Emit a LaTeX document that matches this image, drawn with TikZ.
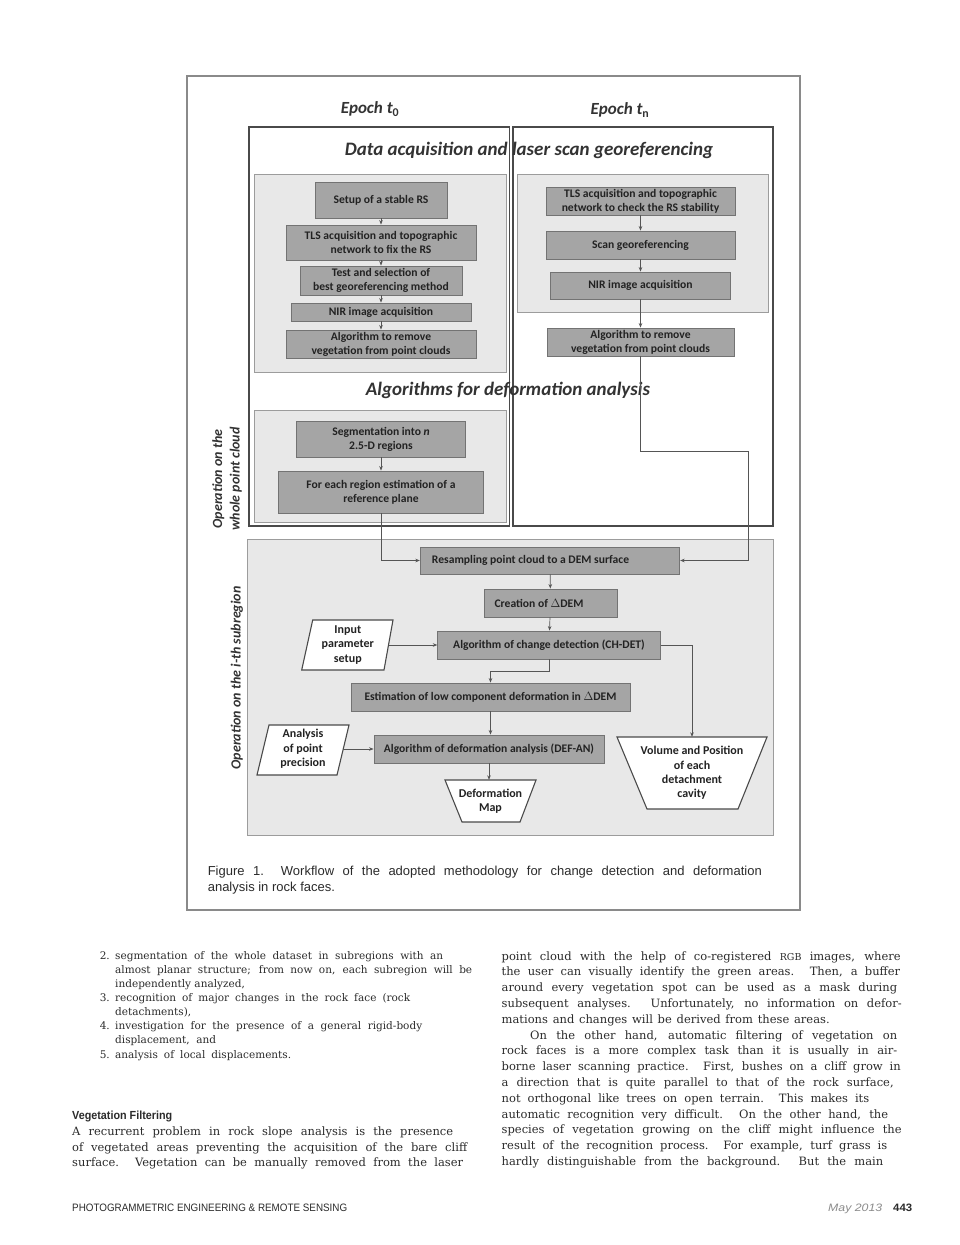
\documentclass[tikz,border=0pt]{standalone}
\usepackage{fontspec}
\usepackage{graphicx}
\usetikzlibrary{arrows.meta,calc}
\newfontfamily\carl{Carlito}
\newfontfamily\bodyf{DejaVu Serif}
\newfontfamily\capf{Liberation Sans}
\definecolor{boxfill}{HTML}{A5A5A5}
\definecolor{boxdraw}{HTML}{737373}
\definecolor{boxtext}{HTML}{222222}
\definecolor{panelfill}{HTML}{E8E8E8}
\definecolor{paneldraw}{HTML}{9C9C9C}
\definecolor{bigcol}{HTML}{4A4A4A}
\definecolor{framecol}{HTML}{8A8A8A}
\definecolor{arrcol}{HTML}{555555}
\definecolor{ttlcol}{HTML}{333333}
\definecolor{bodytext}{HTML}{2B2B2B}
\definecolor{datecol}{HTML}{8C8C8C}
\newlength\jlw
\newcommand\jl[2]{\settowidth\jlw{#2}\ifdim\jlw<#1\relax\makebox[#1][s]{#2}\else #2\fi}
\tikzset{
  gbox/.style={draw=boxdraw, fill=boxfill, line width=0.9pt, font=\carl\bfseries\fontsize{11.6}{14}\selectfont, text=boxtext, align=center, inner sep=0pt},
  wtext/.style={font=\carl\bfseries\fontsize{12}{14.3}\selectfont, text=boxtext, align=center, inner sep=0pt},
  wshape/.style={draw=bigcol, fill=white, line width=1.1pt, line join=miter},
  panel/.style={draw=paneldraw, fill=panelfill, line width=0.9pt},
  bigframe/.style={draw=bigcol, line width=1.8pt},
  arr/.style={draw=arrcol, line width=0.7pt, -{Stealth[length=4.5pt,width=3.6pt]}},
  epoch/.style={font=\carl\bfseries\itshape\fontsize{17}{20}\selectfont, text=ttlcol, inner sep=0pt},
  ttl/.style={font=\carl\bfseries\itshape\fontsize{19}{22}\selectfont, text=ttlcol, inner sep=0pt},
  vlab/.style={font=\carl\bfseries\itshape\fontsize{14}{17.5}\selectfont, text=ttlcol, inner sep=0pt, align=center, rotate=90},
  body/.style={font=\bodyf\fontsize{11.5}{14}\selectfont, text=bodytext, inner sep=0pt, anchor=base west},
  listf/.style={font=\bodyf\fontsize{10.5}{13}\selectfont, text=bodytext, inner sep=0pt, anchor=base west},
  capt/.style={font=\capf\fontsize{13}{15}\selectfont, text=bodytext, inner sep=0pt, anchor=base west},
}
\begin{document}
\begin{tikzpicture}[x=1pt,y=-1pt]
\fill[white] (0,0) rectangle (960,1245);
\useasboundingbox (0,0) rectangle (960,1245);

% figure frame
\draw[draw=framecol, line width=1.2pt] (187,76) rectangle (800,910);

% big frames and panels
\draw[bigframe] (249,127) rectangle (509.5,526);
\draw[bigframe] (512.7,127) rectangle (773,526);
\draw[panel] (254,174) rectangle (506,372);
\draw[panel] (517,174) rectangle (768,312);
\draw[panel] (254,410) rectangle (506,522);
\draw[panel] (247.6,539) rectangle (773,835);

% titles
\node[epoch] (e0) at (370,109) {Epoch t\textsubscript{\upshape 0}};
\node[epoch] (en) at (620,110) {Epoch t\textsubscript{\upshape n}};
\node[ttl] (t1) at (529,150) {Data acquisition and laser scan georeferencing};
\node[ttl] (t2) at (508,390) {Algorithms for deformation analysis};
\node[vlab] (vl1) at (227,479) {Operation on the\\whole point cloud};
\node[vlab] (vl2) at (237,678) {Operation on the i-th subregion};

% left chain (epoch t0)
\node[gbox, minimum width=132, minimum height=36] (b1) at (381,200) {Setup of a stable RS};
\node[gbox, minimum width=190, minimum height=35] (b2) at (381,242.5) {TLS acquisition and topographic\\network to fix the RS};
\node[gbox, minimum width=162, minimum height=29] (b3) at (381,280.5) {Test and selection of\\best georeferencing method};
\node[gbox, minimum width=180, minimum height=18] (b4) at (381,312) {NIR image acquisition};
\node[gbox, minimum width=190, minimum height=28] (b5) at (381,344) {Algorithm to remove\\vegetation from point clouds};
\draw[arr] (b1) -- (b2);
\draw[arr] (b2) -- (b3);
\draw[arr] (b3) -- (b4);
\draw[arr] (b4) -- (b5);

% right chain (epoch tn)
\node[gbox, minimum width=189, minimum height=28] (r1) at (640.5,201) {TLS acquisition and topographic\\network to check the RS stability};
\node[gbox, minimum width=189, minimum height=28] (r2) at (640.5,245) {Scan georeferencing};
\node[gbox, minimum width=180, minimum height=27] (r3) at (640.5,285.5) {NIR image acquisition};
\node[gbox, minimum width=187, minimum height=28] (r4) at (640.5,342) {Algorithm to remove\\vegetation from point clouds};
\draw[arr] (r1) -- (r2);
\draw[arr] (r2) -- (r3);
\draw[arr] (r3) -- (r4);

% whole point cloud
\node[gbox, minimum width=169, minimum height=36] (s1) at (381,439) {Segmentation into \textit{n}\\2.5-D regions};
\node[gbox, minimum width=205.5, minimum height=42] (s2) at (381,492) {For each region estimation of a\\reference plane};
\draw[arr] (s1) -- (s2);

% subregion
\node[gbox, minimum width=259.5, minimum height=27] (res) at (550,560.5) {\hspace*{-39pt}Resampling point cloud to a DEM surface};
\node[gbox, minimum width=133, minimum height=28] (cre) at (550.5,603) {\hspace*{-23pt}Creation of $\Delta$DEM};
\node[gbox, minimum width=222.5, minimum height=28] (chd) at (549,645) {Algorithm of change detection (CH-DET)};
\node[gbox, minimum width=279, minimum height=28] (est) at (490.5,697) {Estimation of low component deformation in $\Delta$DEM};
\node[gbox, minimum width=230, minimum height=28] (def) at (489,749) {Algorithm of deformation analysis (DEF-AN)};

\draw[wshape] (312.7,620) -- (393,620) -- (384,670) -- (301.7,670) -- cycle;
\node[wtext, minimum width=81, minimum height=50] (inp) at (347.8,645) {Input\\parameter\\setup};
\draw[wshape] (269,725) -- (349,725) -- (337,775) -- (257,775) -- cycle;
\node[wtext, minimum width=80, minimum height=50] (ana) at (303,749) {Analysis\\of point\\precision};
\draw[wshape] (445,780) -- (536,780) -- (520,822) -- (462,822) -- cycle;
\node[wtext, minimum width=60, minimum height=42] (map) at (490.5,801) {Deformation\\Map};
\draw[wshape] (617,737) -- (767,737) -- (738,809) -- (647,809) -- cycle;
\node[wtext, minimum width=100, minimum height=72] (vol) at (692,773) {Volume and Position\\of each\\detachment\\cavity};

\coordinate (k1) at (748,451);
\draw[arr] (r4.south) |- (k1) |- (res.east);
\draw[arr] (s2.south) |- (res.west);
\draw[arr] (res) -- (cre);
\draw[arr] (cre) -- (chd);
\draw[arr] (inp) -- (chd);
\draw[arr] (chd.south) -- ++(0,12) -| (est.north);
\draw[arr] (est.south) -- (est.south |- def.north);
\draw[arr] (ana) -- (def);
\draw[arr] (def.south) -- (def.south |- map.north);
\draw[arr] (chd.east) -| (vol.north);

% caption
\node[capt] (c1) at (207.6,875) {\jl{554pt}{Figure 1.\ \ Workflow of the adopted methodology for change detection and deformation}};
\node[capt] (c2) at (207.6,891) {analysis in rock faces.};

% left column list
\node[listf, anchor=base east] (n2) at (110,959) {2.};
\node[listf] (l0) at (115,959) {\jl{328pt}{segmentation of the whole dataset in subregions with an}};
\node[listf] (l1) at (115,973.15) {\jl{357pt}{almost planar structure; from now on, each subregion will be}};
\node[listf] (l2) at (115,987.3) {\jl{128pt}{independently analyzed,}};
\node[listf, anchor=base east] (n3) at (110,1001.45) {3.};
\node[listf] (l3) at (115,1001.45) {\jl{295pt}{recognition of major changes in the rock face (rock}};
\node[listf] (l4) at (115,1015.6) {\jl{82pt}{detachments),}};
\node[listf, anchor=base east] (n4) at (110,1029.75) {4.};
\node[listf] (l5) at (115,1029.75) {\jl{307pt}{investigation for the presence of a general rigid-body}};
\node[listf] (l6) at (115,1043.9) {\jl{101pt}{displacement, and}};
\node[listf, anchor=base east] (n5) at (110,1058.05) {5.};
\node[listf] (l7) at (115,1058.05) {\jl{176pt}{analysis of local displacements.}};

% left column paragraph
\node[anchor=base west, inner sep=0pt, text=bodytext] (vf) at (72,1119) {\resizebox{100pt}{8.5pt}{\capf\bfseries Vegetation Filtering}};
\node[body] (p0) at (72,1135) {\jl{381pt}{A recurrent problem in rock slope analysis is the presence}};
\node[body] (p1) at (72,1151) {\jl{395pt}{of vegetated areas preventing the acquisition of the bare cliff}};
\node[body] (p2) at (72,1166.5) {\jl{391pt}{surface. Vegetation can be manually removed from the laser}};

% right column
\node[body] (q0) at (501.5,960) {\jl{399pt}{point cloud with the help of co-registered {\fontsize{9.5}{10}\selectfont RGB} images, where}};
\node[body] (q1) at (501.5,975.8) {\jl{398.5pt}{the user can visually identify the green areas. Then, a buffer}};
\node[body] (q2) at (501.5,991.6) {\jl{395.5pt}{around every vegetation spot can be used as a mask during}};
\node[body] (q3) at (501.5,1007.4) {\jl{400pt}{subsequent analyses. Unfortunately, no information on defor-}};
\node[body] (q4) at (501.5,1023.2) {\jl{328pt}{mations and changes will be derived from these areas.}};
\node[body] (q5) at (530,1039) {\jl{367pt}{On the other hand, automatic filtering of vegetation on}};
\node[body] (q6) at (501.5,1054.8) {\jl{395.5pt}{rock faces is a more complex task than it is usually in air-}};
\node[body] (q7) at (501.5,1070.6) {\jl{399pt}{borne laser scanning practice. First, bushes on a cliff grow in}};
\node[body] (q8) at (501.5,1086.4) {\jl{392pt}{a direction that is quite parallel to that of the rock surface,}};
\node[body] (q9) at (501.5,1102.2) {\jl{367.5pt}{not orthogonal like trees on open terrain. This makes its}};
\node[body] (q10) at (501.5,1118) {\jl{386.5pt}{automatic recognition very difficult. On the other hand, the}};
\node[body] (q11) at (501.5,1133.8) {\jl{400pt}{species of vegetation growing on the cliff might influence the}};
\node[body] (q12) at (501.5,1149.6) {\jl{385.5pt}{result of the recognition process. For example, turf grass is}};
\node[body] (q13) at (501.5,1165.4) {\jl{381.5pt}{hardly distinguishable from the background. But the main}};

% footer
\node[anchor=base west, inner sep=0pt, text=bodytext] (ft) at (72,1211) {\resizebox{275pt}{7.5pt}{\capf PHOTOGRAMMETRIC ENGINEERING \& REMOTE SENSING}};
\node[anchor=base west, inner sep=0pt, text=datecol] (fd) at (828,1211) {\resizebox{54pt}{7.5pt}{\capf\itshape May 2013}};
\node[anchor=base west, inner sep=0pt, text=bodytext] (fp) at (893,1211) {\resizebox{19pt}{7.5pt}{\capf\bfseries 443}};
\end{tikzpicture}
\end{document}
